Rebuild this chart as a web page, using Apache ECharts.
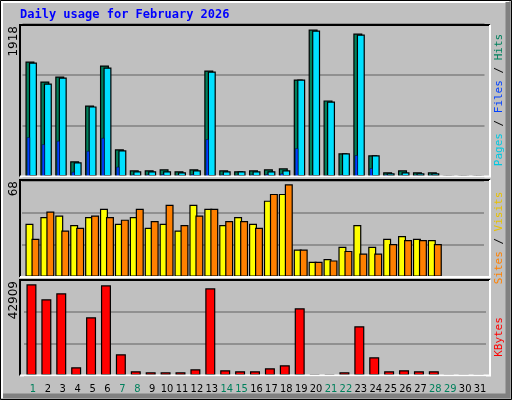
<!DOCTYPE html>
<html><head><meta charset="utf-8">
<script src="https://cdn.jsdelivr.net/npm/echarts@6/dist/echarts.min.js"></script>
<style>html,body{margin:0;padding:0;background:#c0c0c0}#c{width:512px;height:400px}</style>
</head><body><div id="c"></div>
<script>
const days = Array.from({length:31},(_, i)=>String(i+1));
const weekend = [1,7,8,14,15,21,22,28,29];
const hits  = [1500,1240,1305,196,926,1449,352,78,78,92,66,92,1383,78,66,78,92,104,1266,1918,992,300,1866,274,52,78,52,52,0,0,0];
const files = [1487,1213,1292,183,914,1422,339,66,66,66,52,78,1370,66,66,66,66,78,1266,1905,978,300,1853,274,40,52,40,40,0,0,0];
const pages = [509,417,461,56,330,500,122,21,21,26,16,26,483,21,16,21,26,36,365,14,14,21,274,104,21,16,16,16,0,0,0];
const sites = [39,44,45,38,44,50,39,44,36,39,34,53,50,38,44,39,56,61,20,11,13,22,38,22,28,30,28,27,0,0,0];
const visits= [28,48,34,36,45,44,42,50,41,53,38,45,50,41,41,36,61,68,20,11,12,19,17,17,24,27,27,24,0,0,0];
const kbytes= [42909,35837,38666,3772,27349,42437,9902,1886,1415,1415,1415,2829,41023,2358,1886,1886,3301,4715,31593,200,200,1415,23105,8488,1886,2358,1886,1886,0,0,0];
const yLabels = ['1918','68','42909'];

const W=462, L=25.5;
const panels = [{top:23.3,bot:176.3,max:2000},{top:180.3,bot:276.7,max:71},{top:280,bot:375.3,max:44936}];
const grids=[], xAxes=[], yAxes=[], series=[];
function add(panel, offset, data, color, bw, z, showGrid, bwid){
  const p=panels[panel], gi=grids.length;
  grids.push({left:L+offset, width:W, top:p.top, height:p.bot-p.top});
  xAxes.push({type:'category', gridIndex:gi, data:days, show:false, boundaryGap:true});
  yAxes.push({type:'value', gridIndex:gi, min:0, max:p.max, interval:p.max/3, axisLabel:{show:false}, axisLine:{show:false}, axisTick:{show:false},
    splitLine:{show:showGrid, lineStyle:{color:'#808080', width:1.5}}});
  series.push({type:'bar', xAxisIndex:gi, yAxisIndex:gi, data:data, barWidth:bw, z:z, animation:false,
    itemStyle:{color:color, borderColor:'#000', borderWidth:bwid}});
}
add(0,-3,hits,'#00805c',9,2,true,1.2);
add(0,0,files,'#00e0ff',8,3,false,1.2);
add(0,-4.5,pages,'#0040ff',3,4,false,0.4);
add(1,-3.5,sites,'#ffff00',8,2,true,1.2);
add(1,2.5,visits,'#ff8000',8,3,false,1.2);
add(2,-1.5,kbytes,'#ff0000',10,2,true,1.2);
const gi=grids.length;
grids.push({left:L, width:W, top:280, height:95.3});
xAxes.push({type:'category', gridIndex:gi, data:days, axisLine:{show:false}, axisTick:{show:false},
  axisLabel:{interval:0, margin:8, fontFamily:'DejaVu Sans Condensed', fontSize:11,
    color:(v)=>weekend.includes(+v)?'#00805c':'#000'}});
yAxes.push({type:'value', gridIndex:gi, show:false});

const frames=[[20,25,490,176.5],[20,180,490,277],[20,280,490,375.5]];
const graphic=[
  {type:'rect', shape:{x:0.5,y:0.5,width:511,height:399}, style:{fill:'none', stroke:'#000', lineWidth:1}, z:-10},
  {type:'polyline', shape:{points:[[2,398],[2,2],[509,2]]}, style:{stroke:'#fff', lineWidth:2, fill:'none'}},
  {type:'polyline', shape:{points:[[508,2],[508,396],[3,396]]}, style:{stroke:'#808080', lineWidth:5, fill:'none'}},
  {type:'text', left:20, top:9, style:{text:'Daily usage for February 2026', fill:'#0000ff', font:'bold 12px "DejaVu Sans Mono"'}}
];
frames.forEach(f=>{
  graphic.push({type:'polyline', z:100, shape:{points:[[f[0],f[3]],[f[0],f[1]],[f[2],f[1]]]}, style:{stroke:'#000', lineWidth:2, fill:'none'}});
  graphic.push({type:'polyline', z:100, shape:{points:[[f[0],f[3]],[f[2],f[3]],[f[2],f[1]]]}, style:{stroke:'#fff', lineWidth:2, fill:'none'}});
});
[[26,yLabels[0]],[181,yLabels[1]],[281,yLabels[2]]].forEach(([y,t])=>{
  graphic.push({type:'text', x:8, y:y, rotation:Math.PI/2, style:{text:t, fill:'#000', font:'12px "DejaVu Sans"', align:'right', verticalAlign:'top'}});
});
function legend(y, parts){
  graphic.push({type:'text', x:494, y:y, rotation:Math.PI/2, style:{rich:Object.fromEntries(parts.map((p,i)=>['r'+i,{fill:p[1],font:'11px "DejaVu Sans Mono"'}])),
    text:parts.map((p,i)=>'{r'+i+'|'+p[0]+'}').join(''), align:'center', verticalAlign:'top'}});
}
legend(100,[['Pages','#00c8e0'],[' / ','#000'],['Files','#0040ff'],[' / ','#000'],['Hits','#00805c']]);
legend(238,[['Sites','#ff8000'],[' / ','#000'],['Visits','#e8c000']]);
legend(337,[['KBytes','#ff0000']]);

const chart=echarts.init(document.getElementById('c'),null,{renderer:'canvas'});
chart.setOption({backgroundColor:'#c0c0c0', animation:false, grid:grids, xAxis:xAxes, yAxis:yAxes, series:series, graphic:graphic});
</script></body></html>
